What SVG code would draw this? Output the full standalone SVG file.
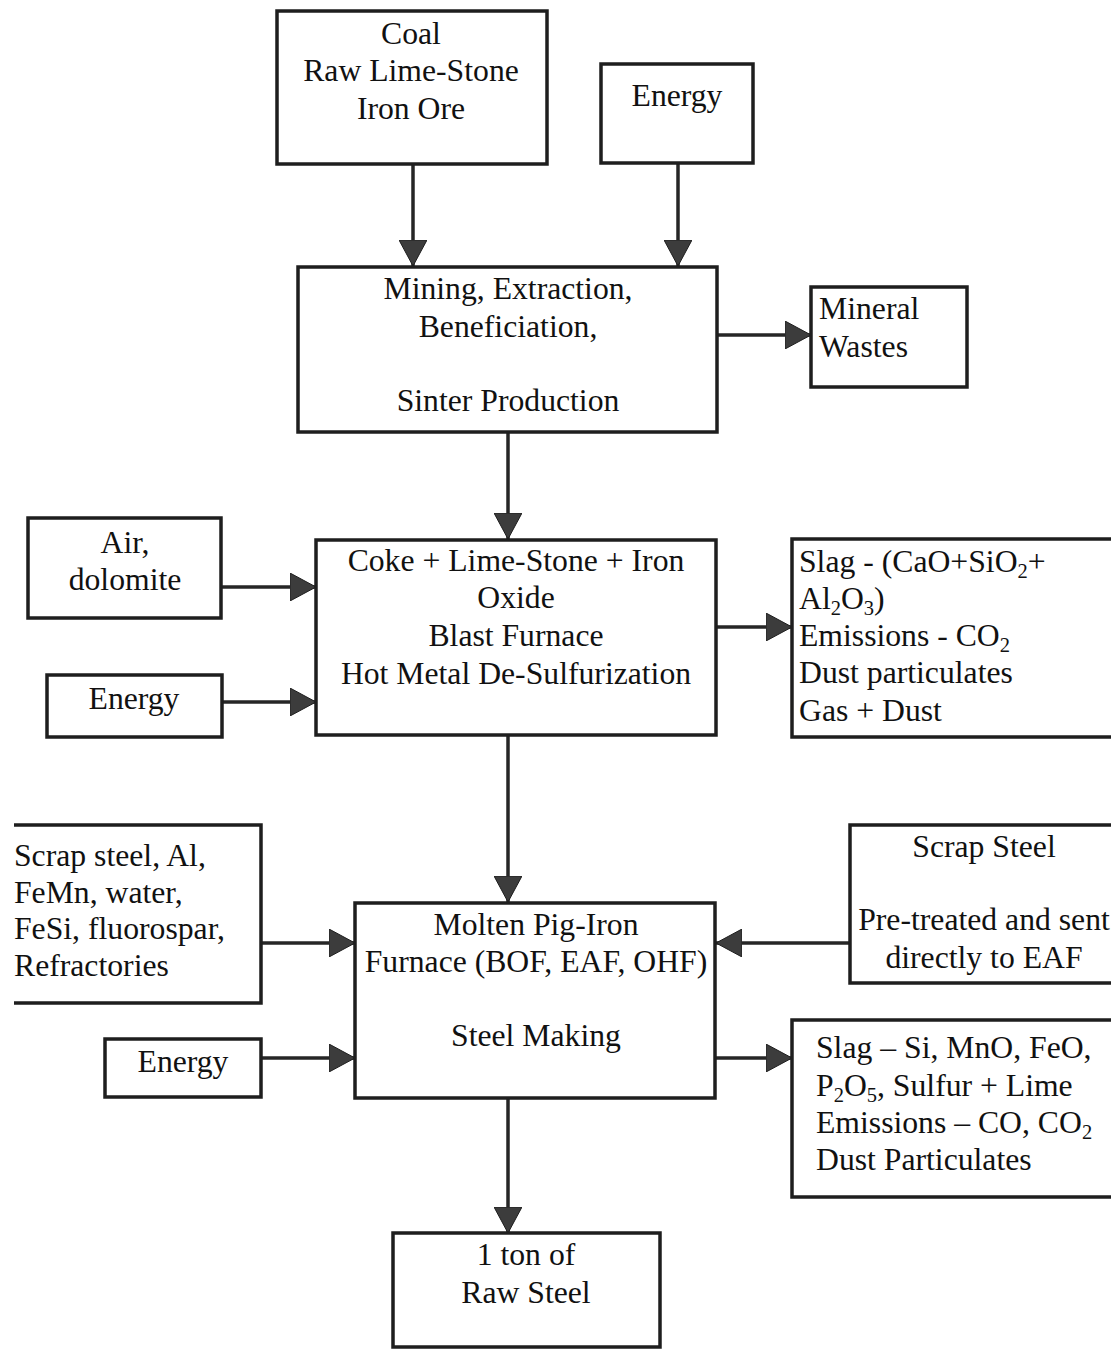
<svg xmlns="http://www.w3.org/2000/svg" width="1111" height="1349" viewBox="0 0 1111 1349">
  <style>
    .box { fill: #ffffff; stroke: #1e1e1e; stroke-width: 3.5; }
    .edge { fill: none; stroke: #262626; stroke-width: 3.5; }
    .t { font-family: "Liberation Serif", "Times New Roman", serif; font-size: 31.7px; fill: #111111; }
    .c { text-anchor: middle; }
    .sub { font-size: 20.5px; }
  </style>
  <defs>
    <marker id="head" markerUnits="userSpaceOnUse" markerWidth="28" markerHeight="28" refX="26" refY="14" orient="auto">
      <path d="M0,0 L26,14 L0,28 Z" fill="#3c3c3c" stroke="#1e1e1e" stroke-width="1"/>
    </marker>
  </defs>
  <rect width="1111" height="1349" fill="#ffffff"/>

  <!-- connectors -->
  <g id="connectors" class="edge" marker-end="url(#head)">
    <line x1="413" y1="164" x2="413" y2="266"/>
    <line x1="678" y1="163" x2="678" y2="266"/>
    <line x1="717" y1="335" x2="811" y2="335"/>
    <line x1="508" y1="432" x2="508" y2="539"/>
    <line x1="221" y1="587" x2="316" y2="587"/>
    <line x1="222" y1="702" x2="316" y2="702"/>
    <line x1="716" y1="627" x2="792" y2="627"/>
    <line x1="508" y1="735" x2="508" y2="902"/>
    <line x1="261" y1="943" x2="355" y2="943"/>
    <line x1="261" y1="1058" x2="355" y2="1058"/>
    <line x1="850" y1="943" x2="716" y2="943"/>
    <line x1="715" y1="1058" x2="792" y2="1058"/>
    <line x1="508" y1="1098" x2="508" y2="1233"/>
  </g>

  <!-- raw materials -->
  <g id="raw-materials">
    <rect class="box" x="277" y="11" width="270" height="153"/>
    <text class="t c" x="411" y="44">Coal</text>
    <text class="t c" x="411" y="81">Raw Lime-Stone</text>
    <text class="t c" x="411" y="119">Iron Ore</text>
  </g>

  <g id="energy-mining">
    <rect class="box" x="601" y="64" width="152" height="99"/>
    <text class="t c" x="677" y="106">Energy</text>
  </g>

  <g id="mining">
    <rect class="box" x="298" y="267" width="419" height="165"/>
    <text class="t c" x="508" y="299">Mining, Extraction,</text>
    <text class="t c" x="508" y="337">Beneficiation,</text>
    <text class="t c" x="508" y="411">Sinter Production</text>
  </g>

  <g id="mineral-wastes">
    <rect class="box" x="811" y="287" width="156" height="100"/>
    <text class="t" x="819" y="319">Mineral</text>
    <text class="t" x="819" y="357">Wastes</text>
  </g>

  <!-- blast furnace stage -->
  <g id="air-dolomite">
    <rect class="box" x="28" y="518" width="193" height="100"/>
    <text class="t c" x="125" y="553">Air,</text>
    <text class="t c" x="125" y="590">dolomite</text>
  </g>

  <g id="energy-furnace">
    <rect class="box" x="47" y="675" width="175" height="62"/>
    <text class="t c" x="134" y="709">Energy</text>
  </g>

  <g id="blast-furnace">
    <rect class="box" x="316" y="540" width="400" height="195"/>
    <text class="t c" x="516" y="571">Coke + Lime-Stone + Iron</text>
    <text class="t c" x="516" y="608">Oxide</text>
    <text class="t c" x="516" y="646">Blast Furnace</text>
    <text class="t c" x="516" y="684">Hot Metal De-Sulfurization</text>
  </g>

  <g id="furnace-outputs">
    <rect class="box" x="792" y="539" width="340" height="198"/>
    <text class="t" x="799" y="572">Slag - (CaO+SiO<tspan class="sub" dy="6">2</tspan><tspan dy="-6">+</tspan></text>
    <text class="t" x="799" y="609">Al<tspan class="sub" dy="6">2</tspan><tspan dy="-6">O</tspan><tspan class="sub" dy="6">3</tspan><tspan dy="-6">)</tspan></text>
    <text class="t" x="799" y="646">Emissions - CO<tspan class="sub" dy="6">2</tspan></text>
    <text class="t" x="799" y="683">Dust particulates</text>
    <text class="t" x="799" y="721">Gas + Dust</text>
  </g>

  <!-- steel making stage -->
  <g id="additives">
    <path class="box" d="M14,825 H261 V1003 H14"/>
    <text class="t" x="14" y="866">Scrap steel, Al,</text>
    <text class="t" x="14" y="903">FeMn, water,</text>
    <text class="t" x="14" y="939">FeSi, fluorospar,</text>
    <text class="t" x="14" y="976">Refractories</text>
  </g>

  <g id="energy-steel">
    <rect class="box" x="105" y="1039" width="156" height="58"/>
    <text class="t c" x="183" y="1072">Energy</text>
  </g>

  <g id="steel-making">
    <rect class="box" x="355" y="903" width="360" height="195"/>
    <text class="t c" x="536" y="935">Molten Pig-Iron</text>
    <text class="t c" x="536" y="972">Furnace (BOF, EAF, OHF)</text>
    <text class="t c" x="536" y="1046">Steel Making</text>
  </g>

  <g id="scrap-steel">
    <rect class="box" x="850" y="825" width="290" height="158"/>
    <text class="t c" x="984" y="857">Scrap Steel</text>
    <text class="t c" x="984" y="930">Pre-treated and sent</text>
    <text class="t c" x="984" y="968">directly to EAF</text>
  </g>

  <g id="steel-outputs">
    <rect class="box" x="792" y="1020" width="340" height="177"/>
    <text class="t" x="816" y="1058">Slag – Si, MnO, FeO,</text>
    <text class="t" x="816" y="1096">P<tspan class="sub" dy="6">2</tspan><tspan dy="-6">O</tspan><tspan class="sub" dy="6">5</tspan><tspan dy="-6">, Sulfur + Lime</tspan></text>
    <text class="t" x="816" y="1133">Emissions – CO, CO<tspan class="sub" dy="6">2</tspan></text>
    <text class="t" x="816" y="1170">Dust Particulates</text>
  </g>

  <g id="raw-steel">
    <rect class="box" x="393" y="1233" width="267" height="114"/>
    <text class="t c" x="526" y="1265">1 ton of</text>
    <text class="t c" x="526" y="1303">Raw Steel</text>
  </g>
</svg>
